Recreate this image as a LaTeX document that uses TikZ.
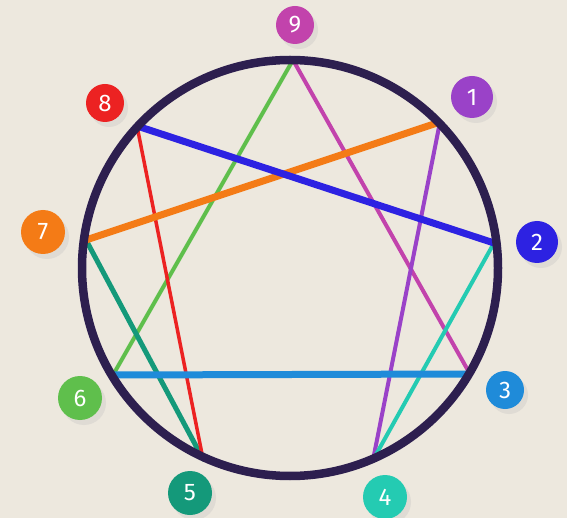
\documentclass[tikz,border=0pt]{standalone}
\usepackage{fontspec}
\setmainfont{Fira Sans}
\definecolor{bgc}{HTML}{EDE8DE}
\definecolor{ringc}{HTML}{2D1F4F}
\definecolor{c9}{HTML}{C243AC}
\definecolor{c1}{HTML}{9A42C8}
\definecolor{c2}{HTML}{2D22E2}
\definecolor{c3}{HTML}{1F8BD9}
\definecolor{c4}{HTML}{24CBB2}
\definecolor{c5}{HTML}{14997A}
\definecolor{c6}{HTML}{5FBF4C}
\definecolor{c7}{HTML}{F47B16}
\definecolor{c8}{HTML}{EC2222}
\tikzset{
  numdot/.style={circle, fill=#1, minimum size=40pt, inner sep=0pt, text=white,
    font=\fontsize{24}{24}\selectfont},
  shade/.style={fill=black!25, opacity=0.3},
  thinline/.style={line width=4pt, line cap=round},
  thickline/.style={line width=7pt, line cap=butt},
}
\begin{document}
\begin{tikzpicture}[x=1pt, y=-1pt]
\useasboundingbox (0,0) rectangle (567,518);
\fill[bgc] (0,0) rectangle (567,518);
% ring
\node[circle, minimum size=416pt, inner sep=0pt] (ring) at (290,268) {};
% points on ring
\coordinate (p9) at (293,60);
\coordinate (p1) at (440,122);
\coordinate (p2) at (494,243);
\coordinate (p3) at (470,374);
\coordinate (p4) at (373,460);
\coordinate (p5) at (203,459);
\coordinate (p6) at (113,375);
\coordinate (p7) at (86,240);
\coordinate (p8) at (137,126);
% lines
\draw[thinline, c6] (p9) -- (p6);
\draw[thinline, c9] (p9) -- (p3);
\draw[thinline, c1] (p1) -- (p4);
\draw[thinline, c4] (p2) -- (p4);
\draw[thinline, c5, line width=5pt] (p7) -- (p5);
\draw[thinline, c8, line width=3.5pt] (p8) -- (p5);
\draw[thickline, c3] (p6) -- (p3);
\draw[thickline, c7] (p7) -- (p1);
\draw[thickline, c2] (p8) -- (p2);
\draw[ringc, line width=8.5pt] (ring.center) circle[radius=208pt];
% shadows
\foreach \xx/\yy/\rr in {295/25/19, 472/97/21, 537/242/21, 505/390/19, 385/497/22, 190/493/22, 80/398/22, 43/232/22, 105/103/19}
  \fill[shade] (\xx+4,\yy+5) circle[radius=\rr pt];
% number dots
\node[numdot=c9, minimum size=38pt] (n9) at (295,25) {9};
\node[numdot=c1, minimum size=42pt] (n1) at (472,97) {1};
\node[numdot=c2, minimum size=42pt] (n2) at (537,242) {2};
\node[numdot=c3, minimum size=38pt] (n3) at (505,390) {3};
\node[numdot=c4, minimum size=44pt] (n4) at (385,497) {4};
\node[numdot=c5, minimum size=44pt] (n5) at (190,493) {5};
\node[numdot=c6, minimum size=44pt] (n6) at (80,398) {6};
\node[numdot=c7, minimum size=44pt] (n7) at (43,232) {7};
\node[numdot=c8, minimum size=38pt] (n8) at (105,103) {8};
\end{tikzpicture}
\end{document}
